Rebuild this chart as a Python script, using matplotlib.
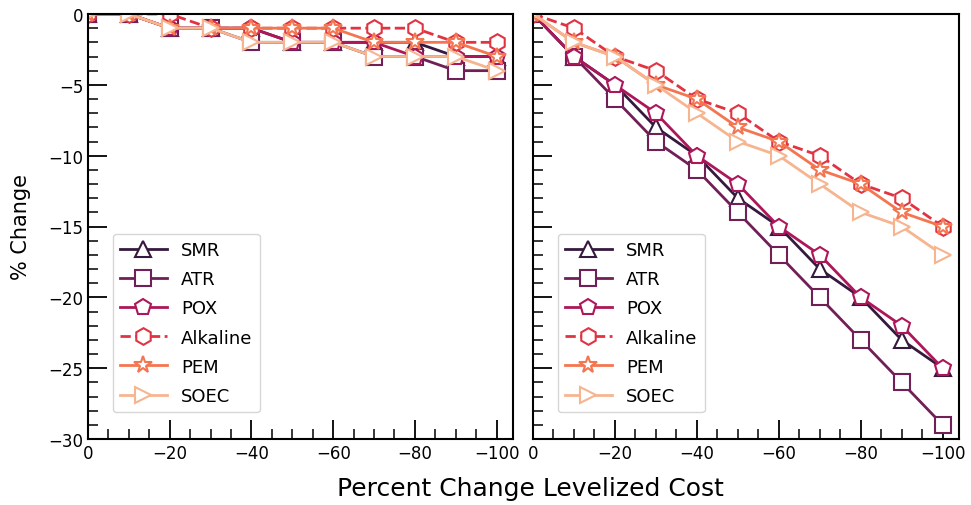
"""Percent change vs levelized cost, two panels (rocket palette)."""
import matplotlib
matplotlib.use('Agg')
import matplotlib.pyplot as plt
from matplotlib.ticker import MultipleLocator

## x values: percent change in levelized cost
cost_change = [0, -10, -20, -30, -40, -50, -60, -70, -80, -90, -100]

labels = ['SMR', 'ATR', 'POX', 'Alkaline', 'PEM', 'SOEC']

## left panel (% change)
smr_left = [0, 0, -1, -1, -1, -2, -2, -2, -2, -3, -3]
atr_left = [0, 0, -1, -1, -2, -2, -2, -3, -3, -4, -4]
pox_left = [0, 0, -1, -1, -1, -2, -2, -2, -3, -3, -3]
alk_left = [0, 0, 0, -1, -1, -1, -1, -1, -1, -2, -2]
pem_left = [0, 0, -1, -1, -1, -1, -1, -2, -2, -2, -3]
soec_left = [0, 0, -1, -1, -2, -2, -2, -3, -3, -3, -4]

## right panel (% change)
smr_right = [0, -3, -5, -8, -10, -13, -15, -18, -20, -23, -25]
atr_right = [0, -3, -6, -9, -11, -14, -17, -20, -23, -26, -29]
pox_right = [0, -3, -5, -7, -10, -12, -15, -17, -20, -22, -25]
alk_right = [0, -1, -3, -4, -6, -7, -9, -10, -12, -13, -15]
pem_right = [0, -2, -3, -5, -6, -8, -9, -11, -12, -14, -15]
soec_right = [0, -2, -3, -5, -7, -9, -10, -12, -14, -15, -17]

colors = ['#35193e', '#701f57', '#ad1759', '#e13342', '#f37651', '#f6b48f']
markers = ['^', 's', 'p', 'h', '*', '>']
styles = ['-', '-', '-', '--', '-', '-']

fig = plt.figure(figsize=(9.71, 5.06), dpi=100)
ax_l = fig.add_axes([88/971, 66/506, 425/971, 425/506])
ax_r = fig.add_axes([533/971, 66/506, 426/971, 425/506])

panels = [
    (ax_l, [smr_left, atr_left, pox_left, alk_left, pem_left, soec_left]),
    (ax_r, [smr_right, atr_right, pox_right, alk_right, pem_right, soec_right]),
]

for ax, series in panels:
    for vals, lab, c, m, ls in zip(series, labels, colors, markers, styles):
        ax.plot(cost_change, vals, linestyle=ls, color=c, marker=m, label=lab,
                markersize=12 if m != '*' else 13, markerfacecolor='white',
                markeredgecolor=c, markeredgewidth=1.5, linewidth=2)
    ax.set_xlim(0, -104)
    ax.set_ylim(-30, 0)
    ax.xaxis.set_major_locator(MultipleLocator(20))
    ax.xaxis.set_minor_locator(MultipleLocator(5))
    ax.yaxis.set_major_locator(MultipleLocator(5))
    ax.yaxis.set_minor_locator(MultipleLocator(1))
    ax.tick_params(which='major', direction='in', length=14, width=1.3, labelsize=12)
    ax.tick_params(which='minor', direction='in', length=7, width=1.1)
    for sp in ax.spines.values():
        sp.set_linewidth(1.5)
    ax.legend(loc='lower left', bbox_to_anchor=(0.058, 0.063), borderaxespad=0,
              fontsize=13, handlelength=2.6, labelspacing=0.62)

ax_r.tick_params(labelleft=False)
ax_l.set_ylabel('% Change', fontsize=15, labelpad=12)
fig.text(0.546, 0.02, 'Percent Change Levelized Cost', ha='center', fontsize=18)

fig.savefig('out.png', dpi=100)
